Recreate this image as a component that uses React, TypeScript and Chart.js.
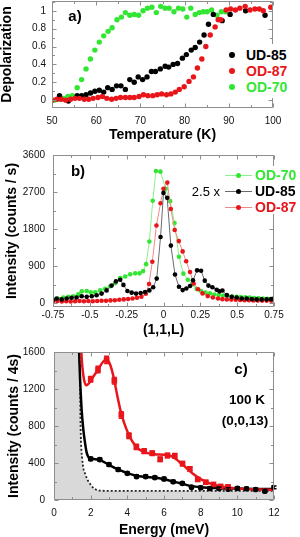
import React, { useEffect, useRef } from 'react';
import { Chart, registerables } from 'chart.js';

Chart.register(...registerables);

const FONT = '"Liberation Sans", Arial, Helvetica, sans-serif';
const GREEN = '#33e633';
const RED = '#e8161b';
const BLACK = '#000000';

// ---------------- Panel a: Depolarization vs Temperature ----------------
const aTicksX = [50, 60, 70, 80, 90, 100];
const aTicksY = [0, 0.2, 0.4, 0.6, 0.8, 1];

const aTempUD85 = [51.7, 53.7, 55.7, 56.7, 57.7, 58.7, 59.7, 60.7, 61.7, 62.6, 63.6, 64.6, 65.6, 66.6, 67.6, 68.6, 69.5, 70.5, 71.5, 72.5, 73.4, 74.5, 75.6, 76.4, 77.4, 78.4, 79.5, 80.4, 81.5, 82.4, 83.4, 84.4, 85.4, 86.5, 88.5, 90.3, 93.8, 98.2];
const aDepUD85 = [0.05, -0.01, 0.05, 0.05, 0.06, 0.08, 0.10, 0.11, 0.09, 0.14, 0.12, 0.16, 0.16, 0.12, 0.23, 0.20, 0.26, 0.23, 0.26, 0.32, 0.32, 0.35, 0.38, 0.37, 0.40, 0.41, 0.47, 0.51, 0.56, 0.59, 0.65, 0.73, 0.85, 0.96, 0.89, 0.96, 1.00, 0.95];

const aTempOD87 = [50.0, 51.1, 52.1, 53.1, 54.2, 55.2, 56.2, 57.3, 58.3, 59.3, 60.4, 61.4, 62.4, 63.5, 64.5, 65.5, 66.6, 67.6, 68.6, 69.7, 70.7, 71.7, 72.8, 73.8, 74.8, 75.9, 76.9, 77.9, 78.8, 79.9, 81.0, 82.0, 82.9, 83.9, 84.8, 85.8, 86.9, 87.6, 88.2, 89.4, 90.4, 91.5, 92.5, 93.7, 94.8, 95.9, 96.9, 97.8, 99.5];
const aDepOD87 = [0.00, 0.01, 0.01, 0.00, 0.01, 0.02, 0.02, 0.01, 0.01, 0.02, 0.03, 0.04, 0.02, 0.01, 0.02, 0.03, 0.03, 0.03, 0.03, 0.04, 0.06, 0.05, 0.05, 0.06, 0.07, 0.06, 0.07, 0.09, 0.12, 0.15, 0.21, 0.26, 0.36, 0.46, 0.60, 0.73, 0.82, 0.90, 0.90, 1.01, 1.02, 1.01, 1.03, 1.05, 1.01, 1.02, 1.02, 1.00, 1.04];

const aTempOD70 = [50.5, 51.6, 52.6, 53.6, 54.6, 55.7, 56.7, 57.7, 58.7, 59.7, 60.7, 61.7, 62.7, 63.6, 64.7, 65.7, 66.6, 67.6, 68.6, 69.6, 70.6, 71.6, 72.6, 73.6, 74.6, 75.6, 76.5, 77.6, 78.6, 79.6, 80.5, 81.4, 82.4, 83.3, 84.2, 85.1, 86.1, 87.3, 88.3, 89.3];
const aDepOD70 = [0.00, 0.01, 0.02, 0.04, 0.05, 0.14, 0.23, 0.35, 0.46, 0.56, 0.65, 0.72, 0.77, 0.81, 0.90, 0.93, 0.98, 0.95, 0.96, 0.95, 1.00, 1.03, 1.04, 0.98, 1.05, 1.03, 1.03, 0.99, 1.03, 1.02, 0.93, 1.03, 0.96, 0.98, 0.99, 0.99, 1.01, 0.95, 0.99, 0.99];

// ---------------- Panel b: Intensity vs (1,1,L) ----------------
const bTicksX = [-0.75, -0.5, -0.25, 0, 0.25, 0.5, 0.75];
const bTicksY = [0, 900, 1800, 2700, 3600];

const bL_OD70 = [-0.748, -0.714, -0.68, -0.646, -0.612, -0.578, -0.555, -0.521, -0.494, -0.464, -0.43, -0.396, -0.362, -0.328, -0.294, -0.26, -0.226, -0.192, -0.163, -0.138, -0.118, -0.096, -0.073, -0.051, -0.021, 0.015, 0.045, 0.075, 0.105, 0.135, 0.165, 0.195, 0.225, 0.255, 0.285, 0.315, 0.345, 0.375, 0.405, 0.435, 0.465, 0.495, 0.525, 0.555, 0.585, 0.615, 0.645, 0.675, 0.705, 0.735];
const bI_OD70 = [94, 108, 141, 157, 172, 219, 289, 297, 266, 266, 313, 352, 414, 485, 610, 649, 704, 727, 727, 782, 950, 1500, 2490, 3210, 3196, 2780, 2480, 1950, 1130, 720, 570, 460, 350, 300, 260, 240, 215, 200, 190, 175, 165, 155, 150, 145, 140, 130, 125, 115, 110, 105];

const bL_UD85 = [-0.75, -0.725, -0.691, -0.657, -0.624, -0.59, -0.555, -0.521, -0.487, -0.454, -0.42, -0.386, -0.352, -0.323, -0.294, -0.272, -0.245, -0.216, -0.186, -0.155, -0.125, -0.096, -0.07, -0.046, -0.02, 0.0, 0.025, 0.05, 0.078, 0.105, 0.13, 0.155, 0.18, 0.2, 0.228, 0.255, 0.28, 0.305, 0.332, 0.361, 0.38, 0.4, 0.43, 0.463, 0.497, 0.531, 0.565, 0.599, 0.632, 0.666, 0.7, 0.73, 0.75];
const bI_UD85 = [78, 117, 94, 117, 133, 141, 172, 157, 172, 196, 235, 313, 430, 532, 570, 446, 300, 258, 235, 250, 274, 313, 390, 600, 1610, 2680, 2560, 1400, 700, 400, 320, 360, 420, 560, 800, 790, 550, 430, 390, 330, 290, 310, 200, 156, 141, 117, 117, 102, 94, 94, 94, 100, 117];

const bL_OD87 = [-0.75, -0.72, -0.69, -0.66, -0.63, -0.60, -0.57, -0.54, -0.51, -0.48, -0.45, -0.42, -0.39, -0.36, -0.33, -0.30, -0.27, -0.24, -0.21, -0.18, -0.15, -0.12, -0.098, -0.076, -0.048, -0.02, 0.0, 0.026, 0.05, 0.076, 0.104, 0.13, 0.154, 0.18, 0.205, 0.235, 0.265, 0.3, 0.335, 0.37, 0.4, 0.43, 0.46, 0.49, 0.52, 0.55, 0.58, 0.61, 0.64, 0.67, 0.70, 0.73, 0.75];
const bI_OD87 = [45, 55, 45, 50, 45, 50, 55, 50, 55, 50, 55, 60, 60, 70, 75, 85, 95, 105, 115, 135, 160, 230, 470, 1010, 1890, 2430, 2780, 2930, 2290, 1780, 1510, 1260, 1020, 760, 480, 340, 240, 175, 140, 115, 100, 95, 90, 85, 80, 75, 75, 70, 70, 65, 65, 65, 65];

// ---------------- Panel c: Intensity vs Energy ----------------
const cTicksX = [0, 2, 4, 6, 8, 10, 12];
const cTicksY = [0, 400, 800, 1200, 1600];

const cE_UD85 = [2.0, 2.5, 3.0, 3.5, 4.0, 4.5, 5.0, 5.5, 6.0, 6.5, 7.0, 7.5, 8.0, 8.5, 9.0, 9.5, 10.0, 10.5, 11.0, 11.5, 12.0];
const cI_UD85 = [445, 437, 383, 330, 288, 253, 253, 242, 228, 198, 180, 139, 133, 125, 125, 118, 127, 122, 114, 95, 137];
const cErr_UD85 = [18, 18, 18, 18, 16, 16, 16, 16, 16, 15, 15, 15, 15, 15, 15, 15, 15, 15, 15, 15, 15];

const cE_OD87 = [2.0, 2.4, 2.87, 3.29, 3.67, 4.09, 4.49, 4.92, 5.36, 5.79, 6.19, 6.59, 7.01, 7.41, 7.84, 8.28, 8.7, 9.09, 9.49];
const cI_OD87 = [1305, 1410, 1515, 1290, 920, 695, 575, 528, 506, 440, 481, 478, 393, 337, 222, 192, 168, 147, 142];
const cErr_OD87 = [30, 35, 40, 35, 35, 30, 28, 25, 25, 25, 25, 25, 22, 22, 20, 20, 18, 18, 18];

const cE_fitOD87 = [1.45, 1.49, 1.55, 1.65, 1.77, 1.9, 2.1, 2.4, 2.7, 2.88, 3.05, 3.25, 3.45, 3.65, 3.85, 4.05, 4.35, 4.65, 5.05, 5.5, 6.0, 6.4, 6.8, 7.2, 7.6, 8.0, 8.5, 9.0, 9.5, 10.0, 11.0, 12.0];
const cI_fitOD87 = [1800, 1600, 1430, 1290, 1240, 1260, 1320, 1410, 1500, 1520, 1470, 1330, 1130, 950, 820, 720, 610, 545, 510, 495, 490, 475, 420, 350, 280, 225, 180, 152, 135, 125, 115, 110];

const cE_fitUD85 = [1.33, 1.37, 1.42, 1.51, 1.6, 1.69, 1.78, 1.87, 1.97, 2.1, 2.5, 3.0, 3.5, 4.0, 4.5, 5.0, 5.5, 6.0, 6.5, 7.0, 7.5, 8.0, 9.0, 10.0, 11.0, 12.0];
const cI_fitUD85 = [1800, 1600, 1320, 970, 760, 620, 515, 465, 448, 445, 432, 380, 330, 290, 262, 250, 242, 225, 200, 175, 150, 138, 128, 124, 120, 118];

const cE_res = [0, 1.35, 1.4, 1.45, 1.54, 1.73, 2.0, 2.28, 2.6, 4.0, 8.0, 12.0];
const cI_res = [1800, 1800, 1600, 800, 445, 270, 165, 113, 100, 98, 98, 98];

// ---------------- helpers ----------------
const zip = (xs: number[], ys: number[]) => xs.map((x, i) => ({ x, y: ys[i] }));

function makeFramePlugin(cfg: { xMajor: number[]; yMajor: number[]; xMinor: number; yMinor: number }) {
  return {
    id: 'frame',
    afterDraw(chart: any) {
      const { ctx, chartArea: a } = chart;
      const xs = chart.scales.x;
      const ys = chart.scales.y;
      const L = Math.round(a.left) + 0.5;
      const R = Math.round(a.right) - 0.5;
      const T = Math.round(a.top) + 0.5;
      const B = Math.round(a.bottom) - 0.5;
      const isMajor = (v: number, arr: number[]) => arr.some((m) => Math.abs(m - v) < 1e-6);
      ctx.save();
      ctx.strokeStyle = '#8e8e8e';
      ctx.lineWidth = 1;
      ctx.beginPath();
      ctx.rect(L, T, R - L, B - T);
      const x0 = Math.ceil(xs.min / cfg.xMinor - 1e-9);
      for (let k = x0; k * cfg.xMinor <= xs.max + 1e-9; k++) {
        const v = k * cfg.xMinor;
        const px = Math.round(xs.getPixelForValue(v)) + 0.5;
        const len = isMajor(v, cfg.xMajor) ? 4 : 2.5;
        ctx.moveTo(px, B); ctx.lineTo(px, B - len);
        ctx.moveTo(px, T); ctx.lineTo(px, T + len);
      }
      const y0 = Math.ceil(ys.min / cfg.yMinor - 1e-9);
      for (let k = y0; k * cfg.yMinor <= ys.max + 1e-9; k++) {
        const v = k * cfg.yMinor;
        const py = Math.round(ys.getPixelForValue(v)) + 0.5;
        const len = isMajor(v, cfg.yMajor) ? 4 : 2.5;
        ctx.moveTo(L, py); ctx.lineTo(L + len, py);
        ctx.moveTo(R, py); ctx.lineTo(R - len, py);
      }
      ctx.stroke();
      ctx.restore();
    },
  };
}

function makeErrorBarPlugin(items: { index: number; errors: number[]; color: string }[]) {
  return {
    id: 'errbars',
    afterDatasetsDraw(chart: any) {
      const { ctx } = chart;
      const ys = chart.scales.y;
      ctx.save();
      items.forEach((it) => {
        const meta = chart.getDatasetMeta(it.index);
        const ds = chart.data.datasets[it.index];
        ctx.strokeStyle = it.color;
        ctx.lineWidth = 1.5;
        ctx.beginPath();
        meta.data.forEach((pt: any, i: number) => {
          const v = ds.data[i].y;
          const e = it.errors[i];
          const yt = ys.getPixelForValue(v + e);
          const yb = ys.getPixelForValue(v - e);
          ctx.moveTo(pt.x, yt); ctx.lineTo(pt.x, yb);
          ctx.moveTo(pt.x - 2.5, yt); ctx.lineTo(pt.x + 2.5, yt);
          ctx.moveTo(pt.x - 2.5, yb); ctx.lineTo(pt.x + 2.5, yb);
        });
        ctx.stroke();
      });
      ctx.restore();
    },
  };
}

type AxisCfg = {
  xMin: number; xMax: number; yMin: number; yMax: number;
  xTicks: number[]; yTicks: number[];
  xTitle: string; yTitle: string;
  yWidth: number; xHeight: number; rightPad: number;
  yTitlePad: number; yTickPad: number; xTickPad: number;
};

function buildScales(p: AxisCfg) {
  const tickFont = { size: 10, family: FONT };
  const titleFont = { size: 14, weight: 'bold' as const, family: FONT, lineHeight: 1 };
  return {
    x: {
      type: 'linear' as const,
      position: 'bottom' as const,
      min: p.xMin,
      max: p.xMax,
      grid: { display: false, drawTicks: false },
      border: { display: false },
      afterBuildTicks: (ax: any) => { ax.ticks = p.xTicks.map((v) => ({ value: v })); },
      afterFit: (ax: any) => { ax.height = p.xHeight; },
      ticks: { padding: p.xTickPad, font: tickFont, color: '#111', maxRotation: 0, autoSkip: false, callback: (v: any) => String(v) },
      title: { display: true, text: p.xTitle, font: titleFont, color: '#000', padding: { top: 0, bottom: 0 } },
    },
    y: {
      type: 'linear' as const,
      position: 'left' as const,
      min: p.yMin,
      max: p.yMax,
      grid: { display: false, drawTicks: false },
      border: { display: false },
      afterBuildTicks: (ax: any) => { ax.ticks = p.yTicks.map((v) => ({ value: v })); },
      afterFit: (ax: any) => { ax.width = p.yWidth; },
      ticks: { padding: p.yTickPad, font: tickFont, color: '#111', autoSkip: false, callback: (v: any) => String(v) },
      title: { display: true, text: p.yTitle, font: titleFont, color: '#000', padding: { top: p.yTitlePad, bottom: 0 } },
    },
  };
}

function baseOptions(p: AxisCfg) {
  return {
    animation: false as const,
    responsive: false,
    maintainAspectRatio: false,
    events: [] as any[],
    layout: { padding: { top: 10, left: 0, right: p.rightPad, bottom: 0 } },
    plugins: { legend: { display: false }, tooltip: { enabled: false } },
    scales: buildScales(p),
  };
}

// ---------------- chart configs ----------------
function configA(): any {
  const axes: AxisCfg = {
    xMin: 50, xMax: 100, yMin: -0.088, yMax: 1.11,
    xTicks: aTicksX, yTicks: aTicksY,
    xTitle: 'Temperature (K)', yTitle: 'Depolarization',
    yWidth: 52, xHeight: 34, rightPad: 27,
    yTitlePad: 0, yTickPad: 6, xTickPad: 7,
  };
  const pt = (label: string, xs: number[], ys: number[], color: string) => ({
    label, data: zip(xs, ys), showLine: false,
    pointRadius: 2.7, pointBackgroundColor: color, pointBorderColor: color, pointBorderWidth: 0,
  });
  return {
    type: 'scatter',
    data: {
      datasets: [
        pt('OD-87', aTempOD87, aDepOD87, RED),
        pt('UD-85', aTempUD85, aDepUD85, BLACK),
        pt('OD-70', aTempOD70, aDepOD70, GREEN),
      ],
    },
    options: baseOptions(axes),
    plugins: [makeFramePlugin({ xMajor: aTicksX, yMajor: aTicksY, xMinor: 5, yMinor: 0.1 })],
  };
}

function configB(): any {
  const axes: AxisCfg = {
    xMin: -0.75, xMax: 0.75, yMin: -90, yMax: 3600,
    xTicks: bTicksX, yTicks: bTicksY,
    xTitle: '(1,1,L)', yTitle: 'Intensity (counts / s)',
    yWidth: 53, xHeight: 30, rightPad: 26,
    yTitlePad: 5, yTickPad: 8, xTickPad: 2,
  };
  const ser = (label: string, xs: number[], ys: number[], color: string, line: string) => ({
    label, data: zip(xs, ys), showLine: true, borderColor: line, borderWidth: 1, tension: 0,
    pointRadius: 2.3, pointBackgroundColor: color, pointBorderColor: color, pointBorderWidth: 0,
  });
  return {
    type: 'scatter',
    data: {
      datasets: [
        ser('UD-85', bL_UD85, bI_UD85, BLACK, '#6a6a6a'),
        ser('OD-87', bL_OD87, bI_OD87, RED, '#f08a8a'),
        ser('OD-70', bL_OD70, bI_OD70, GREEN, '#8cf08c'),
      ],
    },
    options: baseOptions(axes),
    plugins: [makeFramePlugin({ xMajor: bTicksX, yMajor: bTicksY, xMinor: 0.125, yMinor: 450 })],
  };
}

function configC(): any {
  const axes: AxisCfg = {
    xMin: 0, xMax: 12, yMin: 0, yMax: 1600,
    xTicks: cTicksX, yTicks: cTicksY,
    xTitle: 'Energy (meV)', yTitle: 'Intensity (counts / 4s)',
    yWidth: 54, xHeight: 37, rightPad: 26,
    yTitlePad: 7, yTickPad: 9, xTickPad: 7,
  };
  return {
    type: 'scatter',
    data: {
      datasets: [
        {
          label: 'OD-87 data', data: zip(cE_OD87, cI_OD87), showLine: false,
          pointStyle: 'rect', pointRadius: 4, pointBackgroundColor: RED, pointBorderColor: RED, pointBorderWidth: 0,
        },
        {
          label: 'UD-85 data', data: zip(cE_UD85, cI_UD85), showLine: false,
          pointStyle: 'circle', pointRadius: 2.8, pointBackgroundColor: BLACK, pointBorderColor: BLACK, pointBorderWidth: 0,
        },
        {
          label: 'OD-87 fit', data: zip(cE_fitOD87, cI_fitOD87), showLine: true, pointRadius: 0,
          borderColor: RED, borderWidth: 2.5, cubicInterpolationMode: 'monotone', clip: 0,
        },
        {
          label: 'UD-85 fit', data: zip(cE_fitUD85, cI_fitUD85), showLine: true, pointRadius: 0,
          borderColor: BLACK, borderWidth: 2.5, cubicInterpolationMode: 'monotone', clip: 0,
        },
        {
          label: 'resolution', data: zip(cE_res, cI_res), showLine: true, pointRadius: 0,
          borderColor: '#222', borderWidth: 1.8, borderDash: [2, 2], cubicInterpolationMode: 'monotone',
          fill: 'start', backgroundColor: '#d9d9d9', clip: 0,
        },
      ],
    },
    options: baseOptions(axes),
    plugins: [
      makeErrorBarPlugin([
        { index: 0, errors: cErr_OD87, color: RED },
        { index: 1, errors: cErr_UD85, color: BLACK },
      ]),
      makeFramePlugin({ xMajor: cTicksX, yMajor: cTicksY, xMinor: 1, yMinor: 200 }),
    ],
  };
}

// ---------------- components ----------------
function ChartCanvas({ top, height, build }: { top: number; height: number; build: () => any }) {
  const ref = useRef<HTMLCanvasElement>(null);
  useEffect(() => {
    const chart = new Chart(ref.current as HTMLCanvasElement, build());
    return () => chart.destroy();
  }, []);
  return (
    <canvas
      ref={ref}
      width={300}
      height={height}
      style={{ position: 'absolute', left: 0, top, width: 300, height, display: 'block' }}
    />
  );
}

function Txt({ x, y, children, size = 14, color = '#000', weight = 700, anchor = 'center' }: any) {
  const tf = anchor === 'left' ? 'translate(0,-50%)' : anchor === 'right' ? 'translate(-100%,-50%)' : 'translate(-50%,-50%)';
  return (
    <div
      style={{
        position: 'absolute', left: x, top: y, transform: tf,
        fontFamily: FONT, fontSize: size, fontWeight: weight, color,
        whiteSpace: 'nowrap', lineHeight: 1,
      }}
    >
      {children}
    </div>
  );
}

function Dot({ x, y, color, r = 3 }: any) {
  return <div style={{ position: 'absolute', left: x - r, top: y - r, width: 2 * r, height: 2 * r, borderRadius: r, background: color }} />;
}

function Line({ x1, x2, y, color }: any) {
  return <div style={{ position: 'absolute', left: x1, top: y - 0.5, width: x2 - x1, height: 1, background: color }} />;
}

export default function App() {
  return (
    <div style={{ position: 'fixed', left: 0, top: 0, width: 300, height: 537, overflow: 'hidden', background: '#fff' }}>
      <ChartCanvas top={-11} height={153} build={configA} />
      <ChartCanvas top={141} height={196} build={configB} />
      <ChartCanvas top={337} height={200} build={configC} />

      {/* panel a annotations + legend */}
      <Txt x={75} y={15} size={15}>a)</Txt>
      <div style={{ position: 'absolute', left: 224, top: 44, width: 72, height: 54, background: '#fff' }} />
      <Dot x={232} y={55} color={BLACK} />
      <Txt x={246} y={55} anchor="left" color={BLACK}>UD-85</Txt>
      <Dot x={232} y={71} color={RED} />
      <Txt x={246} y={71} anchor="left" color={RED}>OD-87</Txt>
      <Dot x={232} y={87} color={GREEN} />
      <Txt x={246} y={87} anchor="left" color={GREEN}>OD-70</Txt>

      {/* panel b annotations + legend */}
      <Txt x={78} y={170} size={15}>b)</Txt>
      <div style={{ position: 'absolute', left: 223, top: 166, width: 77, height: 48, background: '#fff' }} />
      <Line x1={225} x2={252} y={175} color="#8cf08c" />
      <Dot x={238} y={175} color={GREEN} r={2.5} />
      <Txt x={255} y={175} anchor="left" color={GREEN}>OD-70</Txt>
      <Txt x={220} y={191} anchor="right" weight={400} size={13}>2.5 x</Txt>
      <Line x1={225} x2={252} y={191} color="#6a6a6a" />
      <Dot x={238} y={191} color={BLACK} r={2.5} />
      <Txt x={255} y={191} anchor="left" color={BLACK}>UD-85</Txt>
      <Line x1={225} x2={252} y={207} color="#f08a8a" />
      <Dot x={238} y={207} color={RED} r={2.5} />
      <Txt x={255} y={207} anchor="left" color={RED}>OD-87</Txt>

      {/* panel c annotations */}
      <Txt x={241} y={368} size={15}>c)</Txt>
      <Txt x={247} y={400} size={13.5}>100 K</Txt>
      <Txt x={245} y={421} size={13.5}>(0,0,13)</Txt>
    </div>
  );
}
